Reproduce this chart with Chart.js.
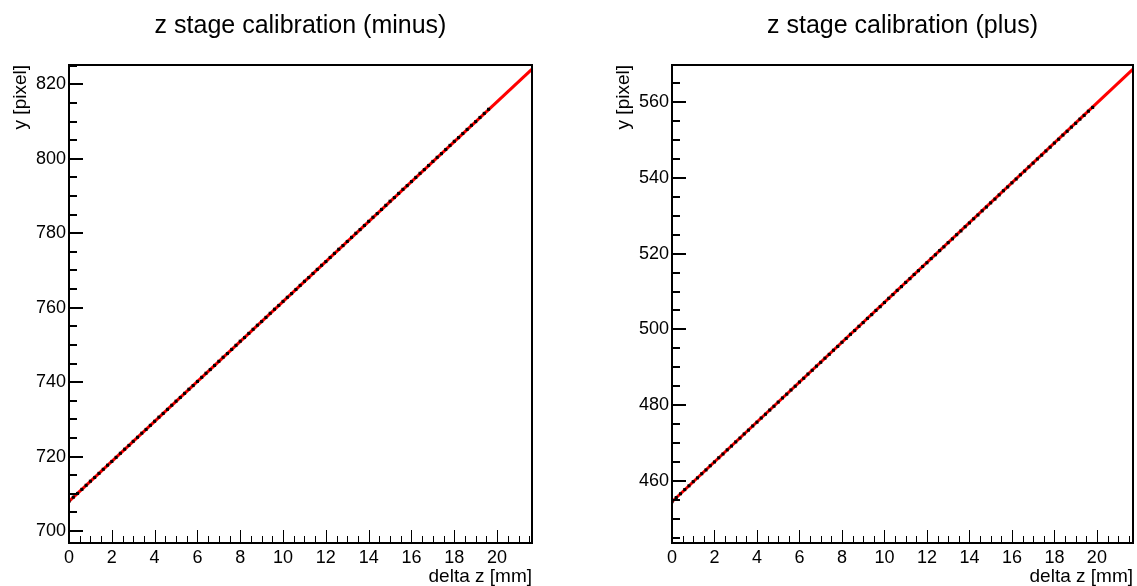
<!DOCTYPE html>
<html>
<head>
<meta charset="utf-8">
<script src="https://cdn.jsdelivr.net/npm/chart.js@4"></script>
<style>
  body { margin: 0; background: #fff; }
  .panel { position: absolute; top: 0; }
</style>
</head>
<body>
<div class="panel" style="left:0"><canvas id="minusChart" width="568" height="586"></canvas></div>
<div class="panel" style="left:568px"><canvas id="plusChart" width="569" height="586"></canvas></div>
<script>
// measured stage positions (mm)
const deltaZ = [
  0.0, 0.2, 0.4, 0.6, 0.8, 1.0, 1.2, 1.4, 1.6, 1.8,
  2.0, 2.2, 2.4, 2.6, 2.8, 3.0, 3.2, 3.4, 3.6, 3.8,
  4.0, 4.2, 4.4, 4.6, 4.8, 5.0, 5.2, 5.4, 5.6, 5.8,
  6.0, 6.2, 6.4, 6.6, 6.8, 7.0, 7.2, 7.4, 7.6, 7.8,
  8.0, 8.2, 8.4, 8.6, 8.8, 9.0, 9.2, 9.4, 9.6, 9.8,
  10.0, 10.2, 10.4, 10.6, 10.8, 11.0, 11.2, 11.4, 11.6, 11.8,
  12.0, 12.2, 12.4, 12.6, 12.8, 13.0, 13.2, 13.4, 13.6, 13.8,
  14.0, 14.2, 14.4, 14.6, 14.8, 15.0, 15.2, 15.4, 15.6, 15.8,
  16.0, 16.2, 16.4, 16.6, 16.8, 17.0, 17.2, 17.4, 17.6, 17.8,
  18.0, 18.2, 18.4, 18.6, 18.8, 19.0, 19.2, 19.4, 19.6, 19.8
];

// y pixel readings, minus direction (99 points, up to 19.6 mm)
const minusY = [
  708.0, 709.1, 710.1, 711.2, 712.3, 713.4, 714.4, 715.5, 716.6, 717.7,
  718.7, 719.8, 720.9, 722.0, 723.0, 724.1, 725.2, 726.3, 727.3, 728.4,
  729.5, 730.6, 731.6, 732.7, 733.8, 734.9, 735.9, 737.0, 738.1, 739.1,
  740.2, 741.3, 742.4, 743.4, 744.5, 745.6, 746.7, 747.7, 748.8, 749.9,
  751.0, 752.0, 753.1, 754.2, 755.3, 756.3, 757.4, 758.5, 759.6, 760.6,
  761.7, 762.8, 763.8, 764.9, 766.0, 767.1, 768.1, 769.2, 770.3, 771.4,
  772.4, 773.5, 774.6, 775.7, 776.7, 777.8, 778.9, 780.0, 781.0, 782.1,
  783.2, 784.3, 785.3, 786.4, 787.5, 788.6, 789.6, 790.7, 791.8, 792.8,
  793.9, 795.0, 796.1, 797.1, 798.2, 799.3, 800.4, 801.4, 802.5, 803.6,
  804.7, 805.7, 806.8, 807.9, 809.0, 810.0, 811.1, 812.2, 813.3
];

// y pixel readings, plus direction (100 points, up to 19.8 mm)
const plusY = [
  454.5, 455.6, 456.6, 457.7, 458.7, 459.8, 460.8, 461.9, 462.9, 464.0,
  465.0, 466.1, 467.1, 468.2, 469.2, 470.3, 471.3, 472.4, 473.4, 474.5,
  475.5, 476.6, 477.6, 478.7, 479.7, 480.8, 481.9, 482.9, 484.0, 485.0,
  486.1, 487.1, 488.2, 489.2, 490.3, 491.3, 492.4, 493.4, 494.5, 495.5,
  496.6, 497.6, 498.7, 499.7, 500.8, 501.8, 502.9, 503.9, 505.0, 506.0,
  507.1, 508.2, 509.2, 510.3, 511.3, 512.4, 513.4, 514.5, 515.5, 516.6,
  517.6, 518.7, 519.7, 520.8, 521.8, 522.9, 523.9, 525.0, 526.0, 527.1,
  528.1, 529.2, 530.2, 531.3, 532.3, 533.4, 534.4, 535.5, 536.6, 537.6,
  538.7, 539.7, 540.8, 541.8, 542.9, 543.9, 545.0, 546.0, 547.1, 548.1,
  549.2, 550.2, 551.3, 552.3, 553.4, 554.4, 555.5, 556.5, 557.6, 558.6
];

// linear fit end points
const minusFitX = [0, 21.63];
const minusFitY = [708.0, 824.1];
const plusFitX = [0, 21.7];
const plusFitY = [454.5, 568.7];

// axis ticks
const xTickValues = [0, 2, 4, 6, 8, 10, 12, 14, 16, 18, 20];
const minusYTicks = [700, 720, 740, 760, 780, 800, 820];
const plusYTicks = [460, 480, 500, 520, 540, 560];

const FONT = 'Liberation Sans, Arial, Helvetica, sans-serif';

// ROOT-like frame with ticks pointing into the pad
const rootFrame = {
    id: 'rootFrame',
    afterDraw(chart) {
        const { ctx, chartArea: a, scales: { x, y } } = chart;
        ctx.save();
        ctx.strokeStyle = '#000';

        // x ticks every 0.5, major every 2
        ctx.lineWidth = 1;
        for (let i = 0; i * 0.5 <= x.max + 1e-9; i++) {
            const px = Math.round(x.getPixelForValue(i * 0.5)) + 0.5;
            const len = i % 4 === 0 ? 13 : 7;
            ctx.beginPath();
            ctx.moveTo(px, a.bottom);
            ctx.lineTo(px, a.bottom - len);
            ctx.stroke();
        }

        // y ticks every 5, major every 20
        ctx.lineWidth = 2;
        const first = Math.ceil(y.min / 5) * 5;
        for (let v = first; v <= y.max; v += 5) {
            const py = Math.round(y.getPixelForValue(v));
            const len = v % 20 === 0 ? 14 : 8;
            ctx.beginPath();
            ctx.moveTo(a.left, py);
            ctx.lineTo(a.left + len, py);
            ctx.stroke();
        }

        ctx.lineWidth = 2;
        ctx.strokeRect(a.left, a.top, a.right - a.left, a.bottom - a.top);
        ctx.restore();
    }
};

function makeChart(id, opts) {
    const points = opts.yValues.map((v, i) => ({ x: deltaZ[i], y: v }));
    const fit = opts.fitX.map((v, i) => ({ x: v, y: opts.fitY[i] }));

    return new Chart(document.getElementById(id), {
        type: 'scatter',
        data: {
            datasets: [
                {
                    data: points,
                    order: 0,
                    backgroundColor: '#000',
                    borderColor: '#000',
                    borderWidth: 0,
                    pointStyle: 'rect',
                    pointRadius: 2.2
                },
                {
                    type: 'line',
                    data: fit,
                    order: 1,
                    borderColor: '#ff0000',
                    borderWidth: 3,
                    pointRadius: 0,
                    fill: false
                }
            ]
        },
        options: {
            responsive: false,
            animation: false,
            devicePixelRatio: 1,
            layout: { padding: { left: 0, right: opts.padRight, top: 0, bottom: 0 } },
            plugins: {
                legend: { display: false },
                tooltip: { enabled: false },
                title: {
                    display: true,
                    text: opts.title,
                    fullSize: false,
                    color: '#000',
                    font: { family: FONT, size: 25, weight: 'normal', lineHeight: 1.2 },
                    padding: { top: 11, bottom: 24 }
                }
            },
            scales: {
                x: {
                    type: 'linear',
                    min: 0,
                    max: opts.xMax,
                    grid: { display: false, drawTicks: false },
                    border: { display: false },
                    afterBuildTicks: s => { s.ticks = xTickValues.map(v => ({ value: v })); },
                    afterFit: s => { s.height = 43; },
                    ticks: {
                        color: '#000',
                        padding: 4,
                        maxRotation: 0,
                        autoSkip: false,
                        font: { family: FONT, size: 18 },
                        callback: v => String(v)
                    },
                    title: {
                        display: true,
                        text: 'delta z [mm]',
                        align: 'end',
                        color: '#000',
                        font: { family: FONT, size: 19, lineHeight: 1 },
                        padding: { top: 0, bottom: 0 }
                    }
                },
                y: {
                    type: 'linear',
                    min: opts.yMin,
                    max: opts.yMax,
                    grid: { display: false, drawTicks: false },
                    border: { display: false },
                    afterBuildTicks: s => { s.ticks = opts.yTicks.map(v => ({ value: v })); },
                    afterFit: s => { s.width = opts.yAxisWidth; },
                    ticks: {
                        color: '#000',
                        padding: 3,
                        autoSkip: false,
                        font: { family: FONT, size: 18 },
                        callback: v => String(v)
                    },
                    title: {
                        display: true,
                        text: 'y [pixel]',
                        align: 'end',
                        color: '#000',
                        font: { family: FONT, size: 19, lineHeight: 1 },
                        padding: { top: opts.yTitlePad, bottom: 0 }
                    }
                }
            }
        },
        plugins: [rootFrame]
    });
}

makeChart('minusChart', {
    title: 'z stage calibration (minus)',
    yValues: minusY,
    fitX: minusFitX,
    fitY: minusFitY,
    xMax: 21.63,
    yMin: 696.8,
    yMax: 825.2,
    yTicks: minusYTicks,
    yAxisWidth: 69,
    yTitlePad: 11,
    padRight: 36
});

makeChart('plusChart', {
    title: 'z stage calibration (plus)',
    yValues: plusY,
    fitX: plusFitX,
    fitY: plusFitY,
    xMax: 21.7,
    yMin: 443.6,
    yMax: 569.8,
    yTicks: plusYTicks,
    yAxisWidth: 104,
    yTitlePad: 46,
    padRight: 4
});
</script>
</body>
</html>
